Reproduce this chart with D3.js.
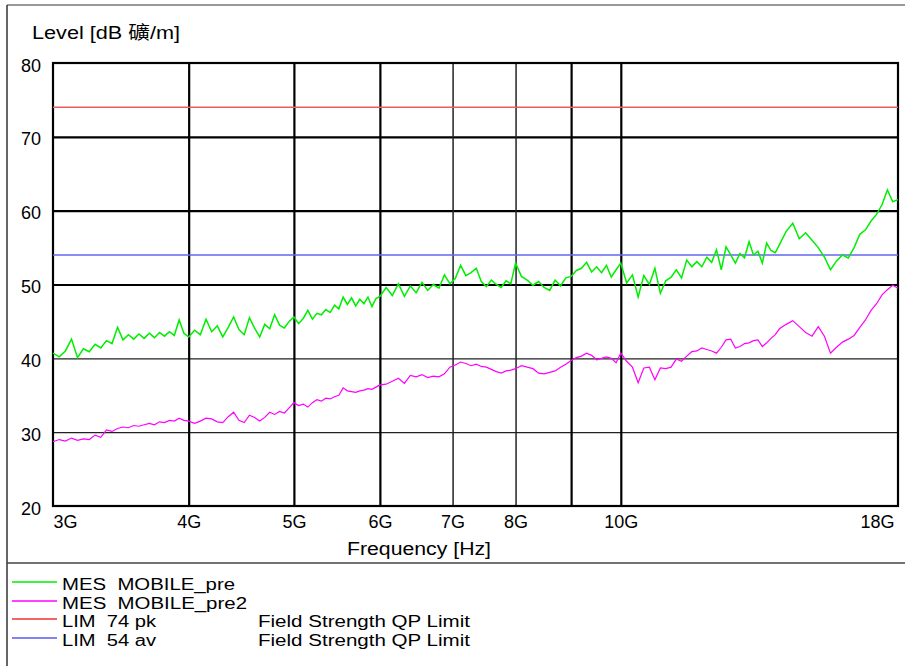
<!DOCTYPE html>
<html>
<head>
<meta charset="utf-8">
<script src="https://cdn.jsdelivr.net/npm/d3@7"></script>
<style>
  html, body { margin: 0; padding: 0; background: #fff; }
  svg { display: block; }
  text { font-family: "Liberation Sans", Arial, "Noto Sans CJK SC", sans-serif; fill: #000; white-space: pre; }
</style>
</head>
<body>
<svg id="chart" width="905" height="666"></svg>
<script>
// ---------------- data ----------------
const freqMHz = [
  3000,3040,3080,3120,3160,3200,3240,3280,3320,3360,3400,3440,3480,3520,3560,3600,3640,3680,3720,3760,3800,3840,3880,3920,3960,4000,
  4050,4100,4150,4200,4250,4300,4350,4400,4450,4500,4550,4600,4650,4700,4750,4800,4850,4900,4950,5000,
  5050,5100,5150,5200,5250,5300,5350,5400,5450,5500,5550,5600,5650,5700,5750,5800,5850,5900,5950,6000,
  6080,6160,6240,6320,6400,6480,6560,6640,6720,6800,6880,6960,7040,7120,7200,7280,7360,7440,7520,7600,7680,7760,7840,7920,8000,
  8100,8200,8300,8400,8500,8600,8700,8800,8900,9000,9100,9200,9300,9400,9500,9600,9700,9800,9900,10000,
  10125,10250,10375,10500,10625,10750,10875,11000,11125,11250,11375,11500,11625,11750,11875,12000,
  12125,12250,12375,12500,12625,12750,12875,13000,13125,13250,13375,13500,13625,13750,13875,14000,
  14200,14400,14600,14800,15000,15200,15400,15600,15800,16000,16200,16400,16600,16800,17000,17200,17400,17600,17800,18000
];
// MES MOBILE_pre (green), dBuV/m
const mesPre = [
  40.7,40.2,41.0,42.6,40.1,41.3,40.9,41.9,41.4,42.4,42.0,44.2,42.5,43.2,42.6,43.3,42.7,43.4,42.8,43.5,43.0,43.6,43.1,45.2,43.4,42.9,
  43.8,43.2,45.3,43.6,44.4,42.9,44.2,45.6,43.9,43.2,45.5,44.1,42.9,44.6,44.0,45.9,44.5,44.1,45.0,45.6,
  44.7,45.4,46.5,45.3,46.1,45.9,46.6,46.2,47.2,46.7,48.3,47.3,48.2,47.1,48.0,47.4,48.3,47.0,48.1,48.4,
  49.6,48.5,50.1,48.4,49.8,48.9,50.3,49.2,50.0,49.5,51.3,50.1,50.8,52.6,51.2,51.6,52.2,50.4,49.7,50.6,50.0,49.6,50.5,50.1,52.9,
  51.1,50.6,49.9,50.4,49.6,49.2,50.6,49.8,50.9,51.1,51.9,52.2,53.0,51.7,52.4,51.6,52.6,51.0,52.0,52.9,
  50.2,51.3,48.3,51.2,50.0,52.2,48.8,50.5,51.0,52.0,50.9,53.3,52.4,53.1,52.4,53.7,
  53.0,54.7,52.0,55.1,54.0,52.9,54.2,53.6,55.8,54.0,54.5,52.9,55.6,54.6,54.3,55.4,
  57.2,58.3,56.2,57.0,56.0,55.0,53.7,52.0,53.2,54.0,53.6,55.0,56.8,57.4,58.6,59.5,60.8,62.8,61.2,61.5
];
// MES MOBILE_pre2 (magenta), dBuV/m
const mesPre2 = [
  28.7,29.0,28.8,29.2,28.9,29.1,29.0,29.6,29.3,30.3,30.1,30.5,30.7,30.6,30.9,30.8,31.0,31.2,31.0,31.4,31.3,31.6,31.5,31.9,31.6,31.5,
  31.2,31.5,31.9,31.8,31.4,31.3,32.1,32.7,31.6,31.3,32.3,32.0,31.5,32.0,32.7,32.4,32.8,32.6,33.3,34.0,
  33.6,33.8,33.4,34.0,34.4,34.2,34.6,34.5,34.8,35.0,36.0,35.6,35.5,35.4,35.6,35.7,35.9,35.8,36.1,36.4,
  36.5,36.9,37.3,36.6,37.7,37.5,37.8,37.4,37.6,37.5,37.9,38.8,39.1,39.5,39.3,39.0,39.2,38.9,38.8,38.5,38.2,38.0,38.3,38.4,38.6,
  39.0,38.8,38.6,38.0,37.9,38.1,38.3,38.8,39.2,39.7,40.1,40.3,40.7,40.4,39.8,40.0,40.2,40.0,39.4,40.7,
  39.6,38.8,36.7,38.7,38.8,37.1,38.7,38.6,38.8,39.9,39.6,40.3,40.9,41.0,41.4,41.2,
  41.0,40.7,41.5,42.5,42.6,41.4,41.6,42.0,42.1,42.4,42.5,41.6,42.1,42.7,43.2,44.0,
  44.6,45.1,44.3,43.5,43.0,44.3,43.0,40.7,41.5,42.2,42.6,43.1,44.2,45.2,46.5,47.4,48.6,49.3,49.9,49.5
];
const limitPk = 74;   // LIM 74 pk
const limitAv = 54;   // LIM 54 av

const xTickValues = [3000, 4000, 5000, 6000, 7000, 8000, 10000, 18000];
const xTickLabels = ["3G", "4G", "5G", "6G", "7G", "8G", "10G", "18G"];
const xGridValues = [4000, 5000, 6000, 7000, 8000, 9000, 10000];
const yTickValues = [20, 30, 40, 50, 60, 70, 80];

const legendNames = ["MES  MOBILE_pre", "MES  MOBILE_pre2", "LIM  74 pk", "LIM  54 av"];
const legendDesc  = ["", "", "Field Strength QP Limit", "Field Strength QP Limit"];

// ---------------- drawing ----------------
const svg = d3.select("#chart");
const pLeft = 53, pRight = 898, pTop = 63, pBottom = 506;

const x = d3.scaleLog().domain([3000, 18000]).range([pLeft, pRight]);
const y = d3.scaleLinear().domain([20, 80]).range([pBottom, pTop]);

// outer frame
svg.append("line").attr("x1", 7).attr("x2", 905).attr("y1", 5).attr("y2", 5)
  .attr("stroke", "#999").attr("stroke-width", 2);
svg.append("line").attr("x1", 7).attr("x2", 7).attr("y1", 5).attr("y2", 666)
  .attr("stroke", "#333").attr("stroke-width", 1.5);
svg.append("line").attr("x1", 7).attr("x2", 905).attr("y1", 563).attr("y2", 563)
  .attr("stroke", "#444").attr("stroke-width", 1.5);

// horizontal grid
const yGrid = svg.append("g").attr("transform", `translate(${pLeft},0)`)
  .call(d3.axisLeft(y).tickValues([30, 40, 50, 60, 70]).tickSize(-(pRight - pLeft)).tickFormat(""));
yGrid.select(".domain").remove();
yGrid.selectAll(".tick line")
  .attr("stroke", d => d >= 50 ? "#000" : "#222")
  .attr("stroke-width", d => d >= 50 ? 2.2 : 1.4);

// vertical grid
const xGrid = svg.append("g").attr("transform", `translate(0,${pBottom})`)
  .call(d3.axisBottom(x).tickValues(xGridValues).tickSize(-(pBottom - pTop)).tickFormat(""));
xGrid.select(".domain").remove();
xGrid.selectAll(".tick line")
  .attr("stroke", d => (d === 7000 || d === 8000) ? "#222" : "#000")
  .attr("stroke-width", d => (d === 7000 || d === 8000) ? 1.5 : 2.2);

// plot frame
svg.append("rect").attr("x", pLeft).attr("y", pTop).attr("width", pRight - pLeft).attr("height", pBottom - pTop)
  .attr("fill", "none").attr("stroke", "#000").attr("stroke-width", 2.2);

// limit lines
svg.append("line").attr("x1", pLeft).attr("x2", pRight).attr("y1", y(limitPk)).attr("y2", y(limitPk))
  .attr("stroke", "#f05a5a").attr("stroke-width", 1.5);
svg.append("line").attr("x1", pLeft).attr("x2", pRight).attr("y1", y(limitAv)).attr("y2", y(limitAv))
  .attr("stroke", "#6464f0").attr("stroke-width", 1.6);

// traces
const line = d3.line().x(d => x(d[0])).y(d => y(d[1]));
svg.append("path").datum(freqMHz.map((f, i) => [f, mesPre2[i]]))
  .attr("d", line).attr("fill", "none").attr("stroke", "#ff00ff").attr("stroke-width", 1.2);
svg.append("path").datum(freqMHz.map((f, i) => [f, mesPre[i]]))
  .attr("d", line).attr("fill", "none").attr("stroke", "#00ee00").attr("stroke-width", 1.5);

// y axis labels
const yAxis = svg.append("g").attr("transform", `translate(${pLeft},0)`)
  .call(d3.axisLeft(y).tickValues(yTickValues).tickSize(0).tickPadding(12));
yAxis.select(".domain").remove();
yAxis.selectAll("text").attr("font-size", 18).attr("dy", "0.45em")
  .style("font-family", '"Liberation Sans", Arial, sans-serif').attr("fill", "#000");

// x axis labels
const xAxis = svg.append("g").attr("transform", `translate(0,${pBottom})`)
  .call(d3.axisBottom(x).tickValues(xTickValues).tickSize(0).tickPadding(0)
    .tickFormat((d, i) => xTickLabels[i]));
xAxis.select(".domain").remove();
xAxis.selectAll("text").attr("font-size", 18).attr("y", 22).attr("dy", 0)
  .style("font-family", '"Liberation Sans", Arial, sans-serif').attr("fill", "#000")
  .attr("text-anchor", (d, i) => i === 0 ? "start" : (i === xTickValues.length - 1 ? "end" : "middle"))
  .attr("dx", (d, i) => i === xTickValues.length - 1 ? -4 : 0);

// titles
svg.append("text").attr("x", 32).attr("y", 39).attr("font-size", 18)
  .attr("textLength", 148).attr("lengthAdjust", "spacingAndGlyphs")
  .text("Level [dB 礦/m]");
svg.append("text").attr("x", 347).attr("y", 555).attr("font-size", 18)
  .attr("textLength", 144).attr("lengthAdjust", "spacingAndGlyphs")
  .text("Frequency [Hz]");

// legend
const legendColors = ["#00ee00", "#ff00ff", "#f03030", "#5a5af0"];
const legendY = [582, 601, 619, 638];
const nameWidths = [173, 185, 94, 94];
legendNames.forEach((name, i) => {
  svg.append("line").attr("x1", 12).attr("x2", 57).attr("y1", legendY[i]).attr("y2", legendY[i])
    .attr("stroke", legendColors[i]).attr("stroke-width", 1.5);
  svg.append("text").attr("x", 62).attr("y", legendY[i] + 8).attr("font-size", 16)
    .attr("textLength", nameWidths[i]).attr("lengthAdjust", "spacingAndGlyphs")
    .text(name);
  if (legendDesc[i]) {
    svg.append("text").attr("x", 258).attr("y", legendY[i] + 8).attr("font-size", 16)
      .attr("textLength", 212).attr("lengthAdjust", "spacingAndGlyphs")
      .text(legendDesc[i]);
  }
});
</script>
</body>
</html>
